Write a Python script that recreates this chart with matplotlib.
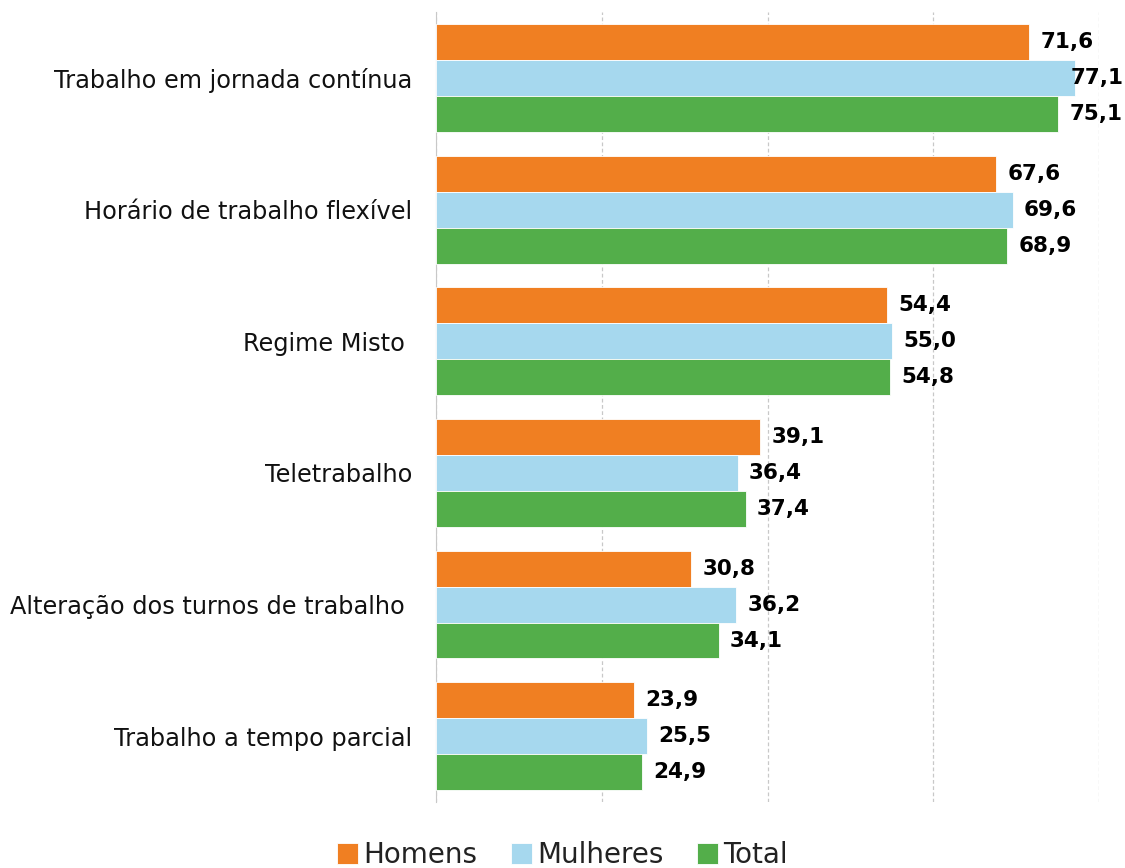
import numpy as np
import matplotlib.pyplot as plt

categories = ["Trabalho em jornada contínua", "Horário de trabalho flexível", "Regime Misto ",
              "Teletrabalho", "Alteração dos turnos de trabalho ", "Trabalho a tempo parcial"]
homens = [71.6, 67.6, 54.4, 39.1, 30.8, 23.9]
mulheres = [77.1, 69.6, 55.0, 36.4, 36.2, 25.5]
total = [75.1, 68.9, 54.8, 37.4, 34.1, 24.9]

series = [("Homens", homens, "#F07F22"), ("Mulheres", mulheres, "#A6D8EE"), ("Total", total, "#53AE4A")]

fig = plt.figure(figsize=(11.25, 8.68), dpi=100)
ax = fig.add_axes([0.3876, 0.076, 0.5893, 0.910])

y = np.arange(len(categories))
h = 0.273
for k, (name, vals, col) in enumerate(series):
    pos = y + (k - 1) * h
    ax.barh(pos, vals, height=h, color=col, edgecolor="white", linewidth=0.6, label=name, zorder=3)
    for p, v in zip(pos, vals):
        lab = f"{v:.1f}".replace(".", ",")
        # the longest bar leaves no room, its label sits over the bar end
        off = -3 if v > 76 else 8
        ax.annotate(lab, (v, p), xytext=(off, 0), textcoords="offset points",
                    ha="left", va="center", fontsize=15.5, fontweight="bold", color="black",
                    annotation_clip=False, zorder=4)

ax.set_xlim(0, 80)
ax.set_ylim(len(categories) - 0.5, -0.5)
ax.set_xticks([0, 20, 40, 60, 80])
ax.set_xticklabels([])
ax.tick_params(axis="x", length=0)
ax.tick_params(axis="y", length=0, pad=17, labelsize=17.3, labelcolor="#111111")
ax.set_yticks(y)
ax.set_yticklabels(categories)
ax.grid(axis="x", color="#C8C8C8", ls=(0, (3, 2)), lw=0.9, zorder=0)
for s in ["top", "right", "bottom"]:
    ax.spines[s].set_visible(False)
ax.spines["left"].set_color("#C8C8C8")

leg = fig.legend(loc="lower center", bbox_to_anchor=(0.5, -0.03), ncol=3, frameon=False,
                 fontsize=20, handlelength=0.75, handleheight=0.75, handletextpad=0.2,
                 columnspacing=1.2)
for t in leg.get_texts():
    t.set_color("#222222")

fig.savefig("out.png", dpi=100)
